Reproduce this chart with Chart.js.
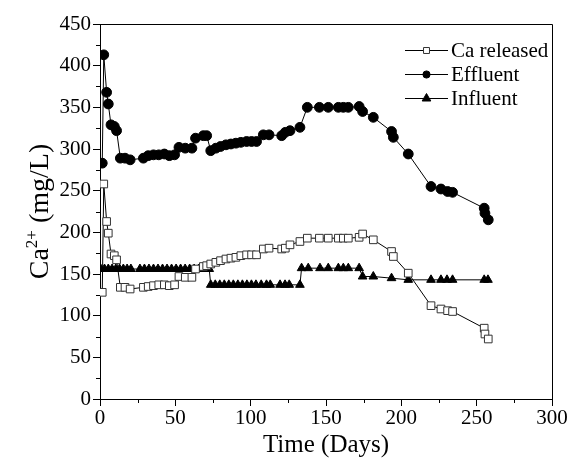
<!DOCTYPE html>
<html>
<head>
<meta charset="utf-8">
<script src="https://cdn.jsdelivr.net/npm/chart.js@4/dist/chart.umd.min.js"></script>
<style>
html,body{margin:0;padding:0;background:#fff;}
canvas{display:block;}
</style>
</head>
<body>
<canvas id="c" width="570" height="466"></canvas>
<script>
// ---- data ----
const seriesNames = ["Ca released", "Effluent", "Influent"];
const sampleDays = [1.5, 2.5, 4.4, 5.5, 7.3, 9.5, 11, 13.5, 16.6, 20, 28.8, 32, 35.5, 39, 42.7, 46, 49.5, 52.4, 56.6, 61, 63.4, 68.6, 70.8, 73.5, 76.9, 80, 83.6, 86.9, 90.2, 93.5, 97.3, 100.6, 103.9, 108.4, 112.2, 120.6, 123, 126.1, 132.7, 137.6, 145.6, 151.5, 158.2, 161.5, 164.8, 172, 174.3, 181.4, 193.5, 194.7, 204.6, 219.7, 226.3, 230.7, 234, 255, 255.5, 257.7];
const effluentVals = [283, 413, 368, 354, 329, 327, 322, 289, 289, 287, 289, 292, 293, 293, 294, 292, 293, 302, 301, 301, 313, 316, 316, 298, 301, 303, 305, 306, 307, 308, 309, 309, 309, 317, 317, 316, 320, 322, 326, 350, 350, 350, 350, 350, 350, 351, 345, 338, 321, 314, 294, 255, 252, 249, 248, 229, 223, 215];
const caReleasedVals = [128, 258, 213, 199, 174, 172, 167, 134, 134, 132, 134, 135, 136, 137, 137, 136, 137, 147, 146, 146, 156, 159, 160, 162, 164, 166, 168, 169, 170, 172, 173, 173, 173, 180, 181, 180, 181, 185, 189, 193, 193, 193, 193, 193, 193, 194, 198, 191, 177, 171, 151, 112, 108, 106, 105, 85, 78, 72];
const influentDays = [0.5, 3, 5.5, 8, 10.5, 13, 15.5, 18, 20.5, 26.5, 29.5, 32.5, 35.5, 38.5, 41.5, 44.5, 47.5, 50.5, 53.5, 56.5, 59.5, 62.5, 65.5, 68.5, 72.5, 73.5, 76.5, 79.5, 82.5, 85.5, 88.5, 91.5, 94.5, 97.5, 100.5, 103.5, 107, 110.5, 113, 119.5, 122.8, 125.6, 132.7, 133.8, 138.2, 146, 151.5, 158.2, 161.5, 164.8, 172, 174.3, 181.4, 193.5, 204.6, 219.7, 226.3, 230.3, 234, 255, 257.5];
const influentVals = [156, 156, 156, 156, 156, 156, 156, 156, 156, 156, 156, 156, 156, 156, 156, 156, 156, 156, 156, 156, 156, 156, 156, 156, 156, 137, 137, 137, 137, 137, 137, 137, 137, 137, 137, 137, 137, 137, 137, 137, 137, 137, 137, 157, 157, 157, 157, 157, 157, 157, 157, 147, 147, 145, 143, 143, 143, 143, 143, 143, 143];
const xTicks = [0, 50, 100, 150, 200, 250, 300];
const yTicks = [0, 50, 100, 150, 200, 250, 300, 350, 400, 450];
const xTitle = "Time (Days)";
const yTitleParts = ["Ca", "2+", " (mg/L)"];

const FONT = "'Liberation Serif', 'Times New Roman', serif";
const pts = (xs, ys) => xs.map((x, i) => ({x: x, y: ys[i]}));

const frameAndMinor = {
  id: 'frameAndMinor',
  afterDraw(chart) {
    const ctx = chart.ctx, a = chart.chartArea;
    const xs = chart.scales.x, ys = chart.scales.y;
    ctx.save();
    ctx.strokeStyle = '#000';
    ctx.lineWidth = 1;
    ctx.beginPath();
    ctx.moveTo(Math.round(a.left) + 0.5, Math.round(a.top) + 0.5);
    ctx.lineTo(Math.round(a.right) + 0.5, Math.round(a.top) + 0.5);
    ctx.lineTo(Math.round(a.right) + 0.5, Math.round(a.bottom) + 0.5);
    ctx.stroke();
    ctx.beginPath();
    for (let i = 0; i < xTicks.length - 1; i++) {
      const v = (xTicks[i] + xTicks[i + 1]) / 2;
      const px = Math.round(xs.getPixelForValue(v)) + 0.5;
      ctx.moveTo(px, a.bottom);
      ctx.lineTo(px, a.bottom + 4);
    }
    for (let i = 0; i < yTicks.length - 1; i++) {
      const v = (yTicks[i] + yTicks[i + 1]) / 2;
      const py = Math.round(ys.getPixelForValue(v)) + 0.5;
      ctx.moveTo(a.left, py);
      ctx.lineTo(a.left - 4, py);
    }
    ctx.stroke();
    ctx.restore();
  }
};

const yTitlePlugin = {
  id: 'yTitlePlugin',
  afterDraw(chart) {
    const ctx = chart.ctx, a = chart.chartArea;
    const big = "28px " + FONT, small = "17px " + FONT;
    ctx.save();
    ctx.fillStyle = '#000';
    ctx.textBaseline = 'alphabetic';
    ctx.font = big; const w0 = ctx.measureText(yTitleParts[0]).width;
    ctx.font = small; const w1 = ctx.measureText(yTitleParts[1]).width;
    ctx.font = big; const w2 = ctx.measureText(yTitleParts[2]).width;
    const total = w0 + w1 + w2;
    ctx.translate(48, (a.top + a.bottom) / 2);
    ctx.rotate(-Math.PI / 2);
    let x = -total / 2;
    ctx.font = big; ctx.fillText(yTitleParts[0], x, 0); x += w0;
    ctx.font = small; ctx.fillText(yTitleParts[1], x, -11); x += w1;
    ctx.font = big; ctx.fillText(yTitleParts[2], x, 0);
    ctx.restore();
  }
};

const legendPlugin = {
  id: 'legendPlugin',
  afterDraw(chart) {
    const ctx = chart.ctx;
    const rows = [50, 74, 98];
    ctx.save();
    chart.data.datasets.forEach((ds, i) => {
      const y = rows[i];
      ctx.strokeStyle = '#000';
      ctx.lineWidth = 1;
      ctx.beginPath();
      ctx.moveTo(405, y + 0.5);
      ctx.lineTo(448, y + 0.5);
      ctx.stroke();
      ctx.fillStyle = ds.pointBackgroundColor;
      ctx.strokeStyle = ds.pointBorderColor;
      ctx.lineWidth = 1;
      Chart.helpers.drawPoint(ctx, {pointStyle: ds.pointStyle, radius: ds.legendRadius, rotation: 0, borderWidth: 1}, 426.5, y + 0.5);
      ctx.fillStyle = '#000';
      ctx.font = "21px " + FONT;
      ctx.textBaseline = 'middle';
      ctx.textAlign = 'left';
      ctx.fillText(ds.label, 451, y + 1);
    });
    ctx.restore();
  }
};

new Chart(document.getElementById('c'), {
  type: 'line',
  data: {
    datasets: [
      {
        label: seriesNames[0],
        data: pts(sampleDays, caReleasedVals),
        borderColor: '#000', borderWidth: 1,
        pointStyle: 'rect', pointRadius: 5.4, legendRadius: 4.2,
        pointBackgroundColor: '#fff', pointBorderColor: '#333', pointBorderWidth: 1,
        tension: 0
      },
      {
        label: seriesNames[1],
        data: pts(sampleDays, effluentVals),
        borderColor: '#000', borderWidth: 1,
        pointStyle: 'circle', pointRadius: 4.9, legendRadius: 3.6,
        pointBackgroundColor: '#000', pointBorderColor: '#000', pointBorderWidth: 1,
        tension: 0
      },
      {
        label: seriesNames[2],
        data: pts(influentDays, influentVals),
        borderColor: '#000', borderWidth: 1,
        pointStyle: 'triangle', pointRadius: 5, legendRadius: 5,
        pointBackgroundColor: '#000', pointBorderColor: '#000', pointBorderWidth: 1,
        tension: 0
      }
    ]
  },
  options: {
    responsive: false,
    animation: false,
    events: [],
    layout: {padding: {top: 24, right: 18, left: 0, bottom: 0}},
    plugins: {legend: {display: false}, tooltip: {enabled: false}},
    scales: {
      x: {
        type: 'linear', min: 0, max: 300,
        afterBuildTicks(s) { s.ticks = xTicks.map(v => ({value: v})); },
        afterFit(s) { s.height = 67; },
        ticks: {color: '#000', font: {family: FONT, size: 21}, padding: 0, maxRotation: 0},
        grid: {drawOnChartArea: false, drawTicks: true, tickLength: 7, color: '#000', tickColor: '#000'},
        border: {display: true, color: '#000', width: 1},
        title: {display: true, text: xTitle, color: '#000', font: {family: FONT, size: 25}, padding: {top: 0, bottom: 6}}
      },
      y: {
        type: 'linear', min: 0, max: 450,
        afterBuildTicks(s) { s.ticks = yTicks.map(v => ({value: v})); },
        afterFit(s) { s.width = 100; },
        ticks: {color: '#000', font: {family: FONT, size: 21}, padding: 2},
        grid: {drawOnChartArea: false, drawTicks: true, tickLength: 7, color: '#000', tickColor: '#000'},
        border: {display: true, color: '#000', width: 1}
      }
    }
  },
  plugins: [frameAndMinor, yTitlePlugin, legendPlugin]
});
</script>
</body>
</html>
